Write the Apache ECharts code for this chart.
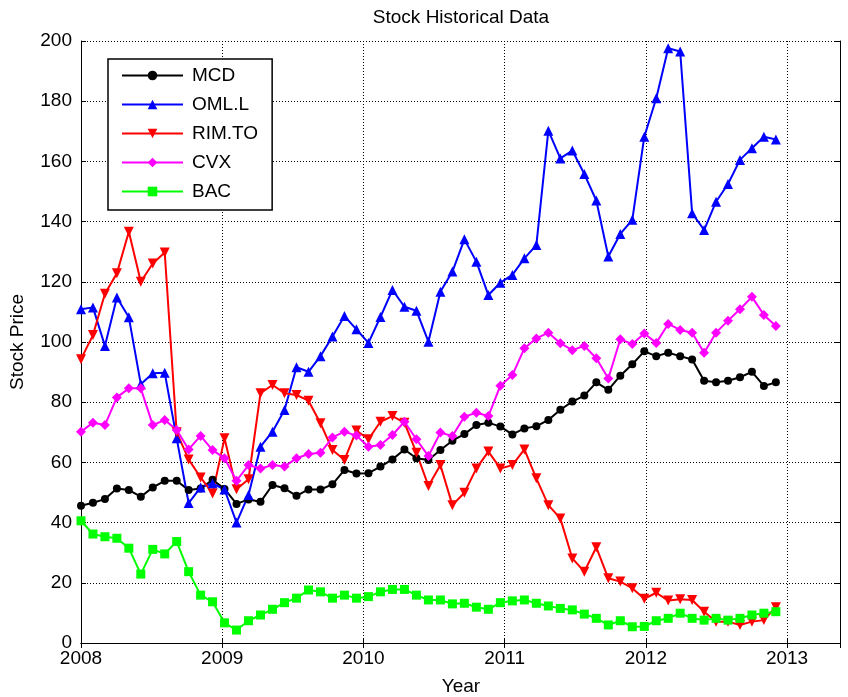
<!DOCTYPE html>
<html>
<head>
<meta charset="utf-8">
<title>Stock Historical Data</title>
<script src="https://cdn.jsdelivr.net/npm/echarts@6/dist/echarts.min.js"></script>
<style>
html, body { margin: 0; padding: 0; background: #fff; }
#main { width: 848px; height: 697px; }
</style>
</head>
<body>
<div id="main"></div>
<script>
// sample dates (one every 31 days)
var dates = [
    '2008-01-01','2008-02-01','2008-03-03','2008-04-03','2008-05-04','2008-06-04','2008-07-05','2008-08-05','2008-09-05','2008-10-06','2008-11-06','2008-12-07',
    '2009-01-07','2009-02-07','2009-03-10','2009-04-10','2009-05-11','2009-06-11','2009-07-12','2009-08-12','2009-09-12','2009-10-13','2009-11-13','2009-12-14',
    '2010-01-14','2010-02-14','2010-03-17','2010-04-17','2010-05-18','2010-06-18','2010-07-19','2010-08-19','2010-09-19','2010-10-20','2010-11-20','2010-12-21',
    '2011-01-21','2011-02-21','2011-03-24','2011-04-24','2011-05-25','2011-06-25','2011-07-26','2011-08-26','2011-09-26','2011-10-27','2011-11-27','2011-12-28',
    '2012-01-28','2012-02-28','2012-03-30','2012-04-30','2012-05-31','2012-07-01','2012-08-01','2012-09-01','2012-10-02','2012-11-02','2012-12-03'
];

var mcd = [45.6, 46.6, 47.8, 51.3, 50.8, 48.6, 51.7, 53.9, 53.9, 50.8, 51.3, 54.2, 51.2,
    46.2, 47.7, 46.9, 52.5, 51.4, 48.9, 51.0, 51.0, 52.7, 57.5,
    56.3, 56.4, 58.6, 61.0, 64.3, 61.4, 60.8, 64.1, 67.2, 69.4, 72.4, 73.2, 71.9, 69.3,
    71.3, 72.0, 74.1, 77.5, 80.2, 82.2, 86.6, 84.1, 88.8, 92.6,
    96.9, 95.3, 96.4, 95.3, 94.2, 87.1, 86.6, 87.1, 88.3, 90.1, 85.4, 86.6];

var oml = [110.9, 111.5, 98.7, 114.8, 108.2, 86.0, 89.6, 89.8, 68.0, 46.5, 51.7, 53.0, 51.0,
    40.0, 49.2, 65.2, 70.2, 77.4, 91.6, 90.1, 95.3, 101.8, 108.6,
    104.2, 99.7, 108.3, 117.3, 111.7, 110.4, 100.1, 116.7, 123.4, 134.1, 126.7, 115.6, 119.7, 122.3,
    127.8, 132.2, 170.2, 161.0, 163.6, 155.8, 147.0, 128.4, 135.9, 140.6,
    168.2, 181.0, 197.6, 196.5, 142.8, 137.2, 146.6, 152.5, 160.5, 164.4, 168.2, 167.3];

var rim = [94.3, 102.3, 116.0, 122.8, 136.6, 120.0, 126.1, 129.7, 70.0, 61.0, 55.0, 49.7, 68.0,
    51.1, 54.4, 83.0, 85.7, 83.0, 82.4, 80.5, 73.0, 64.1, 60.8,
    70.6, 67.7, 73.5, 75.4, 73.2, 63.2, 52.2, 59.1, 45.8, 49.9, 58.0, 63.6, 58.0, 59.1,
    64.3, 54.7, 45.8, 41.4, 28.1, 23.7, 31.8, 21.5, 20.4, 18.2,
    14.7, 16.7, 14.1, 14.5, 14.3, 10.4, 7.1, 7.1, 6.0, 7.1, 7.6, 11.9];

var cvx = [70.2, 73.2, 72.4, 81.6, 84.6, 84.6, 72.4, 74.1, 70.8, 64.3, 68.8, 64.1, 61.4,
    53.9, 59.1, 58.0, 59.1, 58.6, 61.4, 62.8, 63.2, 68.3, 70.2,
    68.9, 65.2, 65.8, 69.1, 73.5, 67.7, 62.1, 69.9, 68.8, 75.2, 76.5, 75.4, 85.5, 89.0,
    97.9, 101.2, 103.1, 99.6, 97.3, 98.7, 94.6, 87.9, 100.9, 99.3,
    102.8, 99.7, 106.0, 104.0, 103.1, 96.4, 103.1, 107.1, 110.9, 115.0, 109.0, 105.3];

var bac = [40.6, 36.2, 35.3, 34.8, 31.5, 22.9, 31.1, 29.6, 33.7, 23.7, 15.9, 13.7, 6.7,
    4.3, 7.4, 9.3, 11.2, 13.4, 14.9, 17.6, 17.0, 14.9, 15.9,
    14.9, 15.4, 17.0, 17.8, 17.8, 15.9, 14.3, 14.3, 13.0, 13.2, 11.9, 11.2, 13.4, 14.0,
    14.3, 13.2, 12.3, 11.5, 11.0, 9.6, 8.2, 6.0, 7.4, 5.4,
    5.5, 7.4, 8.2, 9.9, 8.2, 7.6, 8.2, 7.6, 8.2, 9.3, 9.9, 10.4];

var yearTicks = [2008, 2009, 2010, 2011, 2012, 2013];

var FONT = '"Liberation Sans", Arial, sans-serif';
var FS = 19;

// date string -> fractional year
function toYear(s) {
    var p = s.split('-');
    var y = +p[0];
    var t0 = Date.UTC(y, 0, 1), t1 = Date.UTC(y + 1, 0, 1);
    var t = Date.UTC(y, +p[1] - 1, +p[2]);
    return y + (t - t0) / (t1 - t0);
}
var xs = dates.map(toYear);
function pairs(arr) {
    return arr.map(function (v, i) { return [xs[i], v]; });
}

function mkSeries(name, arr, color, symbol, size, rotate) {
    return {
        name: name,
        type: 'line',
        data: pairs(arr),
        symbol: symbol,
        symbolSize: size,
        symbolRotate: rotate || 0,
        showAllSymbol: true,
        lineStyle: { color: color, width: 2 },
        itemStyle: { color: color },
        emphasis: { disabled: true },
        animation: false
    };
}

var chart = echarts.init(document.getElementById('main'), null, { renderer: 'canvas' });

var gridLine = { show: true, lineStyle: { color: '#000', width: 1, type: [1, 2] } };

var option = {
    backgroundColor: '#fff',
    grid: { left: 81, top: 41, width: 759, height: 602, containLabel: false },
    xAxis: [{
        type: 'value',
        min: 2008, max: 2013.375, interval: 1,
        axisLine: { show: true, lineStyle: { color: '#000', width: 1 } },
        axisTick: { show: true, inside: true, length: 5, lineStyle: { color: '#000' } },
        axisLabel: {
            color: '#000', fontSize: FS, fontFamily: FONT, margin: 6,
            showMaxLabel: false,
            formatter: function (v) { return yearTicks.indexOf(v) >= 0 ? String(v) : ''; }
        },
        splitLine: gridLine
    }, {
        type: 'value', position: 'top',
        min: 2008, max: 2013.375, interval: 1,
        axisLine: { show: true, lineStyle: { color: '#000', width: 1 } },
        axisTick: { show: true, inside: true, length: 5, lineStyle: { color: '#000' } },
        axisLabel: { show: false },
        splitLine: { show: false }
    }],
    yAxis: [{
        type: 'value',
        min: 0, max: 200, interval: 20,
        axisLine: { show: true, lineStyle: { color: '#000', width: 1 } },
        axisTick: { show: true, inside: true, length: 5, lineStyle: { color: '#000' } },
        axisLabel: { color: '#000', fontSize: FS, fontFamily: FONT, margin: 9 },
        splitLine: gridLine
    }, {
        type: 'value', position: 'right',
        min: 0, max: 200, interval: 20,
        axisLine: { show: true, lineStyle: { color: '#000', width: 1 } },
        axisTick: { show: true, inside: true, length: 5, lineStyle: { color: '#000' } },
        axisLabel: { show: false },
        splitLine: { show: false }
    }],
    legend: {
        data: ['MCD', 'OML.L', 'RIM.TO', 'CVX', 'BAC'],
        orient: 'vertical',
        left: 108, top: 59,
        padding: [7, 14, 9, 13],
        itemWidth: 61, itemHeight: 12, itemGap: 10,
        backgroundColor: '#fff',
        borderColor: '#000', borderWidth: 1.5,
        selectedMode: false,
        textStyle: { color: '#000', fontSize: FS, fontFamily: FONT, padding: [0, 0, 0, 4] }
    },
    graphic: [
        { type: 'text', x: 461, y: 18, style: { text: 'Stock Historical Data', font: FS + 'px ' + FONT, fill: '#000', align: 'center', verticalAlign: 'middle' } },
        { type: 'text', x: 461, y: 687, style: { text: 'Year', font: FS + 'px ' + FONT, fill: '#000', align: 'center', verticalAlign: 'middle' } },
        { type: 'text', x: 18, y: 342, rotation: Math.PI / 2, style: { text: 'Stock Price', font: FS + 'px ' + FONT, fill: '#000', align: 'center', verticalAlign: 'middle' } }
    ],
    series: [
        mkSeries('MCD', mcd, '#000000', 'circle', 8),
        mkSeries('OML.L', oml, '#0000ff', 'triangle', 10),
        mkSeries('RIM.TO', rim, '#ff0000', 'triangle', 10, 180),
        mkSeries('CVX', cvx, '#ff00ff', 'diamond', 10),
        mkSeries('BAC', bac, '#00ff00', 'rect', 9)
    ]
};

chart.setOption(option);
</script>
</body>
</html>
